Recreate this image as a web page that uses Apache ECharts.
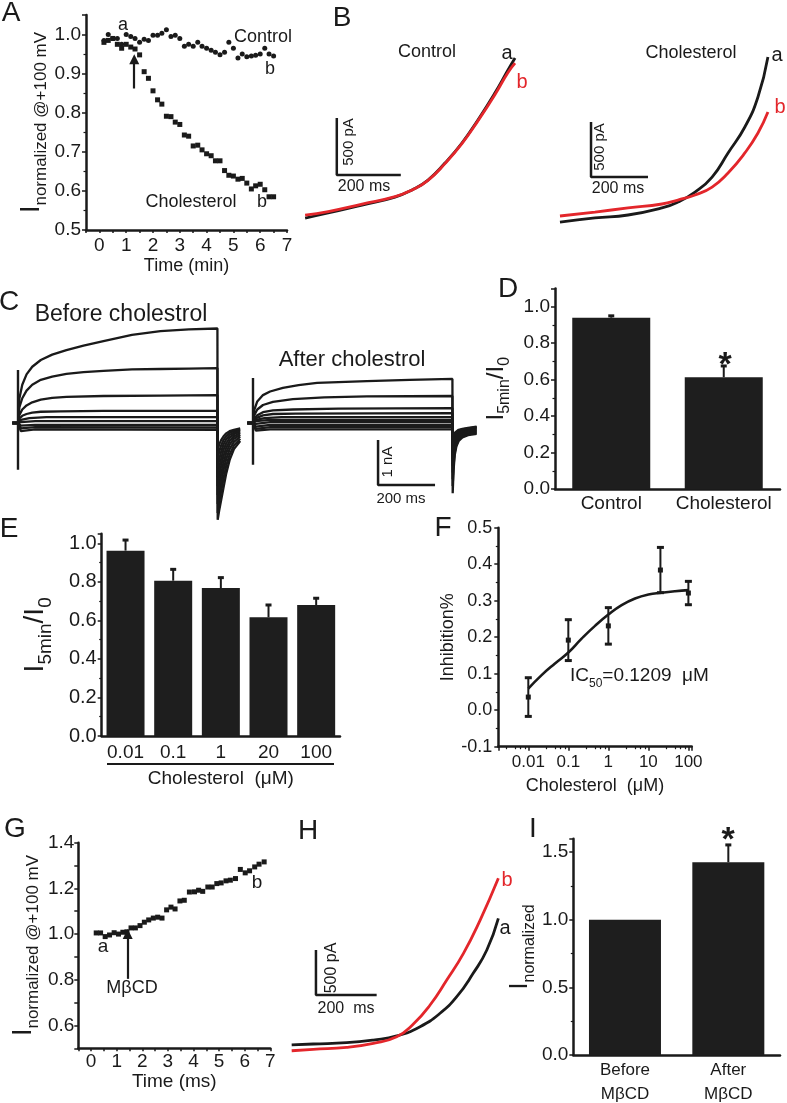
<!DOCTYPE html>
<html>
<head>
<meta charset="utf-8">
<script src="https://cdn.jsdelivr.net/npm/echarts@6/dist/echarts.min.js"></script>
<style>
  html, body { margin: 0; padding: 0; background: #fff; }
  #fig { width: 787px; height: 1103px; }
</style>
</head>
<body>
<div id="fig"></div>
<script>
// ---- data ----
// A: normalized current vs time (min)
const aTime = [0.17, 0.33, 0.5, 0.67, 0.83, 1.0, 1.17, 1.33, 1.5, 1.67, 1.83, 2.0, 2.17, 2.33, 2.5, 2.67, 2.83, 3.0, 3.17, 3.33, 3.5, 3.67, 3.83, 4.0, 4.17, 4.33, 4.5, 4.67, 4.83, 5.0, 5.17, 5.33, 5.5, 5.67, 5.83, 6.0, 6.17, 6.33, 6.5]
const aControl = [0.985, 1.0, 0.99, 0.99, 0.975, 1.0, 0.995, 0.99, 0.98, 0.988, 0.985, 0.998, 0.998, 1.003, 1.012, 0.995, 0.998, 0.99, 0.97, 0.975, 0.97, 0.98, 0.97, 0.965, 0.96, 0.955, 0.948, 0.955, 0.98, 0.965, 0.94, 0.95, 0.943, 0.945, 0.947, 0.95, 0.965, 0.95, 0.945]
const aChol = [0.98, 0.985, 0.99, 0.975, 0.965, 0.975, 0.968, 0.963, 0.948, 0.905, 0.888, 0.856, 0.833, 0.822, 0.791, 0.79, 0.776, 0.77, 0.743, 0.74, 0.715, 0.717, 0.705, 0.695, 0.69, 0.677, 0.677, 0.652, 0.64, 0.638, 0.63, 0.632, 0.62, 0.605, 0.613, 0.617, 0.603, 0.585, 0.585]

// B: current traces (ms, pA)
const bCtrlT = [16, 88, 194, 297, 350, 400, 453, 506, 556, 609, 650, 672]
const bCtrlA = [263, 307, 377, 447, 509, 596, 745, 921, 1123, 1359, 1561, 1666]
const bCtrlB = [289, 320, 385, 450, 509, 594, 740, 915, 1115, 1345, 1540, 1622]
const bCholT = [35, 158, 274, 393, 449, 509, 569, 625, 684, 730, 765]
const bCholA = [236, 273, 300, 364, 418, 509, 645, 864, 1100, 1373, 1736]
const bCholB = [291, 327, 364, 400, 436, 482, 554, 682, 864, 1045, 1236]

// C: current families (ms, nA), before / after cholesterol
const cBefore = [
  [[-20, 0], [0, 0], [5, 0.55], [15, 0.85], [30, 1.08], [50, 1.25], [80, 1.4], [120, 1.52], [170, 1.62], [230, 1.72], [300, 1.82], [400, 1.96], [500, 2.04], [600, 2.08], [700, 2.1], [701, -2.15], [706, -1.95], [713, -1.72], [721, -1.45], [731, -1.12], [743, -0.82], [758, -0.58], [780, -0.4]],
  [[-20, 0], [0, 0], [5, 0.35], [15, 0.55], [30, 0.72], [50, 0.85], [80, 0.96], [120, 1.03], [170, 1.09], [230, 1.13], [300, 1.16], [400, 1.19], [500, 1.2], [600, 1.21], [700, 1.22], [701, -2.0], [706, -1.78], [713, -1.52], [721, -1.25], [731, -0.95], [743, -0.7], [758, -0.5], [780, -0.35]],
  [[-20, 0], [0, 0], [5, 0.18], [15, 0.3], [30, 0.39], [50, 0.46], [80, 0.52], [120, 0.56], [170, 0.58], [300, 0.6], [500, 0.61], [700, 0.62], [701, -1.8], [706, -1.58], [713, -1.33], [721, -1.06], [731, -0.8], [743, -0.58], [758, -0.42], [780, -0.3]],
  [[-20, 0], [0, 0], [5, 0.1], [15, 0.16], [30, 0.2], [50, 0.23], [80, 0.25], [150, 0.26], [300, 0.27], [700, 0.27], [701, -1.6], [706, -1.38], [713, -1.14], [721, -0.9], [731, -0.66], [743, -0.48], [758, -0.35], [780, -0.26]],
  [[-20, 0], [0, 0], [10, 0.07], [40, 0.11], [100, 0.13], [700, 0.13], [701, -1.4], [706, -1.18], [713, -0.96], [721, -0.74], [731, -0.55], [743, -0.4], [758, -0.3], [780, -0.22]],
  [[-20, 0], [0, 0], [10, 0.02], [60, 0.04], [700, 0.04], [701, -1.2], [706, -1.0], [713, -0.8], [721, -0.6], [731, -0.45], [743, -0.33], [758, -0.25], [780, -0.19]],
  [[-20, 0], [0, 0], [10, -0.06], [60, -0.04], [700, -0.04], [701, -1.0], [706, -0.82], [713, -0.64], [721, -0.48], [731, -0.36], [743, -0.27], [758, -0.21], [780, -0.16]],
  [[-20, 0], [0, 0], [10, -0.12], [60, -0.09], [700, -0.1], [701, -0.8], [706, -0.64], [713, -0.5], [721, -0.38], [731, -0.29], [743, -0.22], [758, -0.17], [780, -0.14]],
  [[-20, 0], [0, 0], [10, -0.18], [60, -0.14], [700, -0.15], [701, -0.6], [706, -0.48], [713, -0.38], [721, -0.3], [731, -0.23], [743, -0.18], [758, -0.15], [780, -0.12]]
]
const cAfter = [
  [[-20, 0], [0, 0], [5, 0.3], [15, 0.48], [35, 0.62], [60, 0.7], [105, 0.78], [160, 0.84], [225, 0.89], [300, 0.91], [400, 0.93], [550, 0.96], [700, 0.98], [701, -1.56], [704, -1.05], [708, -0.72], [714, -0.52], [722, -0.4], [735, -0.32], [755, -0.27], [785, -0.24]],
  [[-20, 0], [0, 0], [5, 0.18], [15, 0.3], [35, 0.4], [70, 0.47], [140, 0.53], [250, 0.57], [400, 0.59], [700, 0.6], [701, -1.4], [704, -0.95], [708, -0.66], [714, -0.48], [722, -0.37], [735, -0.3], [755, -0.25], [785, -0.22]],
  [[-20, 0], [0, 0], [5, 0.1], [15, 0.17], [35, 0.24], [70, 0.28], [140, 0.3], [300, 0.32], [700, 0.33], [701, -1.25], [704, -0.85], [708, -0.6], [714, -0.44], [722, -0.34], [735, -0.27], [755, -0.23], [785, -0.2]],
  [[-20, 0], [0, 0], [5, 0.07], [15, 0.12], [35, 0.17], [70, 0.2], [150, 0.21], [700, 0.22], [701, -1.1], [704, -0.76], [708, -0.54], [714, -0.4], [722, -0.31], [735, -0.25], [755, -0.21], [785, -0.18]],
  [[-20, 0], [0, 0], [10, 0.07], [40, 0.11], [100, 0.13], [700, 0.13], [701, -0.95], [704, -0.66], [708, -0.48], [714, -0.36], [722, -0.28], [735, -0.23], [755, -0.19], [785, -0.16]],
  [[-20, 0], [0, 0], [10, 0.04], [60, 0.07], [700, 0.07], [701, -0.8], [704, -0.57], [708, -0.42], [714, -0.32], [722, -0.25], [735, -0.2], [755, -0.17], [785, -0.14]],
  [[-20, 0], [0, 0], [10, -0.02], [60, 0.02], [700, 0.02], [701, -0.65], [704, -0.48], [708, -0.36], [714, -0.28], [722, -0.22], [735, -0.18], [755, -0.15], [785, -0.12]],
  [[-20, 0], [0, 0], [10, -0.08], [60, -0.04], [700, -0.04], [701, -0.5], [704, -0.38], [708, -0.3], [714, -0.24], [722, -0.19], [735, -0.16], [755, -0.13], [785, -0.1]],
  [[-20, 0], [0, 0], [10, -0.13], [60, -0.09], [700, -0.09], [701, -0.4], [704, -0.32], [708, -0.26], [714, -0.21], [722, -0.17], [735, -0.14], [755, -0.12], [785, -0.09]],
  [[-20, 0], [0, 0], [10, -0.17], [60, -0.14], [700, -0.14], [701, -0.3], [704, -0.26], [708, -0.22], [714, -0.18], [722, -0.15], [735, -0.13], [755, -0.11], [785, -0.08]]
]
const cSpikeBefore = [[0, 1.18], [0, -1.04]]
const cSpikeAfter = [[0, 1.0], [0, -0.93]]

// D: I5min/I0
const dCats = ['Control', 'Cholesterol']
const dMean = [0.94, 0.613]
const dErr = [0.01, 0.062]

// E: dose series
const eCats = ['0.01', '0.1', '1', '20', '100']
const eMean = [0.962, 0.806, 0.768, 0.616, 0.68]
const eErr = [0.055, 0.059, 0.054, 0.064, 0.035]

// F: inhibition vs concentration, with fit
const fConc = [0.01, 0.1, 1, 20, 100]
const fMean = [0.036, 0.192, 0.231, 0.384, 0.321]
const fErr = [0.053, 0.056, 0.05, 0.062, 0.032]
const fFitX = [0.01, 0.0215, 0.0464, 0.1, 0.215, 0.464, 1, 2.15, 4.64, 10, 21.5, 46.4, 100]
const fFitY = [0.059, 0.096, 0.128, 0.158, 0.196, 0.231, 0.262, 0.288, 0.306, 0.317, 0.322, 0.326, 0.329]

// G: normalized current vs time (ms)
const gTime = [0.2, 0.37, 0.55, 0.72, 0.9, 1.07, 1.24, 1.4, 1.56, 1.73, 1.91, 2.08, 2.25, 2.43, 2.6, 2.77, 2.95, 3.12, 3.28, 3.47, 3.64, 3.84, 4.04, 4.2, 4.36, 4.56, 4.73, 4.91, 5.08, 5.27, 5.44, 5.64, 5.83, 6.02, 6.19, 6.39, 6.56, 6.76]
const gVal = [1.005, 1.005, 0.989, 0.996, 1.006, 1.0, 1.008, 1.01, 1.027, 1.027, 1.037, 1.052, 1.062, 1.07, 1.074, 1.07, 1.106, 1.118, 1.11, 1.145, 1.148, 1.184, 1.185, 1.192, 1.187, 1.206, 1.206, 1.221, 1.224, 1.233, 1.236, 1.243, 1.283, 1.268, 1.277, 1.294, 1.306, 1.316]

// H: traces before (a) / after (b) MbCD
const hTa = [22, 93, 203, 291, 368, 445, 511, 566, 620, 665, 703]
const hA = [167, 178, 192, 222, 267, 370, 519, 703, 963, 1222, 1574]
const hTb = [22, 93, 203, 291, 368, 423, 478, 533, 588, 643, 703]
const hB = [103, 119, 141, 186, 259, 400, 611, 889, 1185, 1555, 2019]

// I: normalized current
const iCats = ['Before\nMβCD', 'After\nMβCD']
const iMean = [1.0, 1.426]
const iErr = [0, 0.128]

// scale bars, in each panel's data units
const bBarCtrl = [[115, 1140], [115, 640], [315, 640]]
const bBarChol = [[144, 1145], [144, 645], [344, 645]]
const cBar = [[439, -0.38], [439, -1.38], [639, -1.38]]
const hBar = [[102, 1222], [102, 722], [302, 722]]

// ---- chart ----
const FONT = '"Liberation Sans", Arial, Helvetica, sans-serif'
const INK = '#1a1a1a'
const RED = '#e3262b'
const BAR = '#1e1e1e'

const pairs = (xs, ys) => xs.map((x, i) => [x, ys[i]])

function merge (a, b) {
  for (const k in b) {
    const v = b[k]
    if (v && typeof v === 'object' && !Array.isArray(v) && a[k] && typeof a[k] === 'object') merge(a[k], v)
    else a[k] = v
  }
  return a
}

function axis (grid, extra) {
  return merge({
    gridIndex: grid,
    axisLine: {show: true, onZero: false, lineStyle: {color: INK, width: 2.5}},
    axisTick: {show: true, inside: false, length: 4, lineStyle: {color: INK, width: 1.5}},
    minorTick: {show: false, length: 2.5, lineStyle: {color: INK, width: 1.2}},
    splitLine: {show: false},
    axisLabel: {color: INK, fontFamily: FONT, fontSize: 19, margin: 5},
    nameTextStyle: {color: INK, fontFamily: FONT}
  }, extra)
}

function hidden (grid, min, max) {
  return {type: 'value', gridIndex: grid, min: min, max: max, show: false}
}

function ylabelRich (big, small, pad) {
  return {
    b: {fontSize: big, fontFamily: FONT, color: INK, verticalAlign: 'bottom', padding: [0, 0, pad, 0]},
    s: {fontSize: small, fontFamily: FONT, color: INK, verticalAlign: 'bottom'}
  }
}

const grids = [
  {left: 86, top: 15, width: 201, height: 215},       // A
  {left: 300, top: 20, width: 256, height: 228},      // B control
  {left: 550, top: 28, width: 233.6, height: 220},    // B cholesterol
  {left: 12.3, top: 301.5, width: 239.3, height: 229.5}, // C before
  {left: 247.3, top: 301.5, width: 239.3, height: 229.5}, // C after
  {left: 555, top: 288.5, width: 225, height: 200.5},  // D
  {left: 101.7, top: 533.7, width: 238.3, height: 202.3}, // E
  {left: 498.3, top: 527.7, width: 193.4, height: 219}, // F
  {left: 78.3, top: 842.7, width: 192, height: 205.6}, // G
  {left: 285, top: 862, width: 242.8, height: 198},    // H
  {left: 573.3, top: 838.7, width: 206.7, height: 216.3} // I
].map(g => Object.assign({outerBoundsMode: 'none', containLabel: false}, g))

const xAxes = [
  axis(0, {type: 'value', min: -0.5, max: 7, interval: 0.5, name: 'Time (min)', nameLocation: 'middle', nameGap: 27,
    nameTextStyle: {fontSize: 18}, axisTick: {length: 3},
    axisLabel: {formatter: v => Number.isInteger(v) ? String(v) : '', margin: 6}}),
  hidden(1, 0, 800),
  hidden(2, 0, 820),
  hidden(3, -20, 820),
  hidden(4, -20, 820),
  axis(5, {type: 'category', data: dCats, axisTick: {show: false}, axisLabel: {interval: 0, fontSize: 19, margin: 5}}),
  axis(6, {type: 'category', data: eCats, axisTick: {show: false}, axisLabel: {interval: 0, fontSize: 19, margin: 7},
    name: 'Cholesterol  (μM)', nameLocation: 'middle', nameGap: 33, nameTextStyle: {fontSize: 19}}),
  axis(7, {type: 'log', logBase: 10, min: 0.00178, max: 121, axisTick: {length: 4},
    minorTick: {show: true, splitNumber: 5},
    axisLabel: {fontSize: 17, margin: 7, showMinLabel: false, showMaxLabel: false, formatter: v => String(v)},
    name: 'Cholesterol  (μM)', nameLocation: 'middle', nameGap: 30, nameTextStyle: {fontSize: 18}}),
  axis(8, {type: 'value', min: -0.5, max: 7, interval: 0.5, name: 'Time (ms)', nameLocation: 'middle', nameGap: 21,
    nameTextStyle: {fontSize: 19}, axisTick: {length: 3},
    axisLabel: {formatter: v => Number.isInteger(v) ? String(v) : '', margin: 4}}),
  hidden(9, 0, 800),
  axis(10, {type: 'category', data: iCats, axisTick: {show: false}, axisLabel: {interval: 0, fontSize: 17, lineHeight: 24, margin: 3}})
]

const yAxes = [
  axis(0, {type: 'value', min: 0.5, max: 1.05, interval: 0.1, minorTick: {show: true, splitNumber: 2},
    axisLabel: {formatter: v => v.toFixed(1), showMaxLabel: false},
    name: '{b|I}{s|normalized @+100 mV}', nameLocation: 'middle', nameGap: 36,
    nameTextStyle: {rich: ylabelRich(27, 17, 5)}}),
  hidden(1, 0, 2000),
  hidden(2, 0, 2000),
  hidden(3, -2.4, 2.7),
  hidden(4, -2.4, 2.7),
  axis(5, {type: 'value', min: 0, max: 1.1, interval: 0.2, minorTick: {show: true, splitNumber: 2},
    axisLabel: {formatter: v => v.toFixed(1), showMaxLabel: false},
    name: '{b|I}{s|5min}{b|/I}{s|0}', nameLocation: 'middle', nameGap: 42,
    nameTextStyle: {rich: ylabelRich(24, 16, 5)}}),
  axis(6, {type: 'value', min: 0, max: 1.05, interval: 0.2, minorTick: {show: true, splitNumber: 2},
    axisLabel: {formatter: v => v.toFixed(1), showMaxLabel: false, fontSize: 20},
    name: '{b|I}{s|5min}{b|/I}{s|0}', nameLocation: 'middle', nameGap: 46,
    nameTextStyle: {rich: ylabelRich(28, 19, 6)}}),
  axis(7, {type: 'value', min: -0.1, max: 0.5, interval: 0.1, minorTick: {show: true, splitNumber: 2},
    axisLabel: {formatter: v => v.toFixed(1), fontSize: 18, margin: 6},
    name: 'Inhibition%', nameLocation: 'middle', nameGap: 38, nameTextStyle: {fontSize: 18}}),
  axis(8, {type: 'value', min: 0.5, max: 1.4, interval: 0.1,
    axisLabel: {formatter: v => Math.round(v * 10) % 2 === 0 ? v.toFixed(1) : '', margin: 4},
    name: '{b|I}{s|normalized @+100 mV}', nameLocation: 'middle', nameGap: 36,
    nameTextStyle: {rich: ylabelRich(27, 17, 5)}}),
  hidden(9, 0, 2200),
  axis(10, {type: 'value', min: 0, max: 1.6, interval: 0.5, minorTick: {show: true, splitNumber: 2},
    axisLabel: {formatter: v => v.toFixed(1), showMaxLabel: false},
    name: '{b|I}{s|normalized}', nameLocation: 'middle', nameGap: 31,
    nameTextStyle: {rich: ylabelRich(25, 16, 5)}})
]

function trace (ax, data, color, width, smooth) {
  return {type: 'line', xAxisIndex: ax, yAxisIndex: ax, data: data, showSymbol: false, smooth: smooth,
    lineStyle: {color: color, width: width}, silent: true}
}

function errBars (ax, data, capHalf, both) {
  return {
    type: 'custom', xAxisIndex: ax, yAxisIndex: ax, data: data, z: 5, silent: true,
    renderItem: (params, api) => {
      const x = api.value(0)
      const m = api.value(1)
      const e = api.value(2)
      const hi = api.coord([x, m + e])
      const lo = api.coord([x, both ? m - e : m])
      const kids = [
        {type: 'line', shape: {x1: hi[0], y1: hi[1], x2: lo[0], y2: lo[1]}, style: {stroke: INK, lineWidth: 2}},
        {type: 'line', shape: {x1: hi[0] - capHalf, y1: hi[1], x2: hi[0] + capHalf, y2: hi[1]}, style: {stroke: INK, lineWidth: 3}}
      ]
      if (both) kids.push({type: 'line', shape: {x1: lo[0] - capHalf, y1: lo[1], x2: lo[0] + capHalf, y2: lo[1]}, style: {stroke: INK, lineWidth: 3}})
      return {type: 'group', children: kids}
    }
  }
}

function arrow (from, to) {
  return {
    silent: true, symbol: ['none', 'triangle'], symbolSize: 10,
    lineStyle: {color: INK, width: 2.2, type: 'solid', opacity: 1}, label: {show: false},
    itemStyle: {color: INK, opacity: 1},
    data: [[{coord: from}, {coord: to}]]
  }
}

const dots = {color: INK, opacity: 1}

const series = [
  // A
  {type: 'scatter', xAxisIndex: 0, yAxisIndex: 0, data: pairs(aTime, aControl), symbol: 'circle', symbolSize: 5, itemStyle: dots},
  {type: 'scatter', xAxisIndex: 0, yAxisIndex: 0, data: pairs(aTime, aChol), symbol: 'rect', symbolSize: 5, itemStyle: dots,
    markLine: arrow([1.3, 0.862], [1.3, 0.937])},
  // B
  trace(1, pairs(bCtrlT, bCtrlA), INK, 2.8, true),
  trace(1, pairs(bCtrlT, bCtrlB), RED, 2.8, true),
  trace(1, bBarCtrl, INK, 2.5, false),
  trace(2, pairs(bCholT, bCholA), INK, 2.8, true),
  trace(2, pairs(bCholT, bCholB), RED, 2.8, true),
  trace(2, bBarChol, INK, 2.5, false),
  // C
  ...cBefore.map(tr => trace(3, tr, INK, 2.3, false)),
  trace(3, cSpikeBefore, INK, 2.4, false),
  ...cAfter.map(tr => trace(4, tr, INK, 2.3, false)),
  trace(4, cSpikeAfter, INK, 2.4, false),
  trace(4, cBar, INK, 2.5, false),
  // D
  {type: 'bar', xAxisIndex: 5, yAxisIndex: 5, data: dMean, barWidth: 78, itemStyle: {color: BAR}, silent: true},
  errBars(5, dMean.map((m, i) => [i, m, dErr[i]]), 3, false),
  // E
  {type: 'bar', xAxisIndex: 6, yAxisIndex: 6, data: eMean, barWidth: 38, itemStyle: {color: BAR}, silent: true},
  errBars(6, eMean.map((m, i) => [i, m, eErr[i]]), 3, false),
  // F
  trace(7, pairs(fFitX, fFitY), INK, 2.6, true),
  errBars(7, fConc.map((c, i) => [c, fMean[i], fErr[i]]), 3.5, true),
  {type: 'scatter', xAxisIndex: 7, yAxisIndex: 7, data: pairs(fConc, fMean), symbol: 'rect', symbolSize: 5, itemStyle: dots, z: 6},
  // G
  {type: 'scatter', xAxisIndex: 8, yAxisIndex: 8, data: pairs(gTime, gVal), symbol: 'rect', symbolSize: 5, itemStyle: dots,
    markLine: arrow([1.43, 0.804], [1.43, 1.0])},
  // H
  trace(9, pairs(hTa, hA), INK, 2.8, true),
  trace(9, pairs(hTb, hB), RED, 2.8, true),
  trace(9, hBar, INK, 2.5, false),
  // I
  {type: 'bar', xAxisIndex: 10, yAxisIndex: 10, data: iMean, barWidth: 72, itemStyle: {color: BAR}, silent: true},
  errBars(10, iMean.map((m, i) => [i, m, iErr[i]]).filter(d => d[2] > 0), 3, false)
]

function txt (x, y, text, size, extra) {
  return merge({type: 'text', x: x, y: y, silent: true,
    style: {text: text, fontSize: size, fontFamily: FONT, fill: INK, align: 'center', verticalAlign: 'middle'}}, extra || {})
}
const ROT = {rotation: Math.PI / 2}

const graphic = [
  // panel letters
  txt(11, 13, 'A', 28), txt(342, 18, 'B', 28), txt(9, 302, 'C', 28), txt(508, 289, 'D', 28),
  txt(9, 529, 'E', 28), txt(443, 528, 'F', 28), txt(15, 829, 'G', 28), txt(308, 831, 'H', 28), txt(533, 829, 'I', 28),
  // A
  txt(123, 25, 'a', 18), txt(263, 37, 'Control', 18), txt(270, 69, 'b', 18),
  txt(191, 202, 'Cholesterol', 18), txt(262, 202, 'b', 18),
  // B
  txt(427, 52, 'Control', 18), txt(507, 53, 'a', 20), txt(522, 82, 'b', 20, {style: {fill: RED}}),
  txt(349, 142, '500 pA', 15, ROT), txt(364, 187, '200 ms', 16),
  txt(691, 53, 'Cholesterol', 18), txt(777, 55, 'a', 20), txt(780, 107, 'b', 20, {style: {fill: RED}}),
  txt(600, 147, '500 pA', 15, ROT), txt(618, 189, '200 ms', 16),
  // C
  txt(121, 315, 'Before cholestrol', 23), txt(352, 360, 'After cholestrol', 22),
  txt(388, 462, '1 nA', 15, ROT), txt(401, 499, '200 ms', 15),
  // D
  txt(725, 366, '*', 34, {style: {fontWeight: 'bold'}}),
  // E underline
  {type: 'line', silent: true, shape: {x1: 107, y1: 764, x2: 334, y2: 764}, style: {stroke: INK, lineWidth: 2}},
  // F
  {type: 'text', x: 570, y: 678, silent: true, style: {
    text: '{n|IC}{s|50}{n|=0.1209  μM}', align: 'left', verticalAlign: 'middle',
    rich: {n: {fontSize: 19, fontFamily: FONT, fill: INK, verticalAlign: 'bottom', padding: [0, 0, 4, 0]},
      s: {fontSize: 12, fontFamily: FONT, fill: INK, verticalAlign: 'bottom'}}}},
  // G
  txt(103, 947, 'a', 19), txt(257, 883, 'b', 19), txt(132, 988, 'MβCD', 18),
  // H
  txt(332, 968, '500 pA', 16, ROT), txt(346, 1009, '200  ms', 16),
  txt(505, 928, 'a', 20), txt(507, 880, 'b', 20, {style: {fill: RED}}),
  // I
  txt(728, 841, '*', 34, {style: {fontWeight: 'bold'}})
]

const chart = echarts.init(document.getElementById('fig'), null, {renderer: 'canvas', width: 787, height: 1103})
chart.setOption({
  animation: false,
  backgroundColor: '#ffffff',
  textStyle: {fontFamily: FONT, color: INK},
  grid: grids,
  xAxis: xAxes,
  yAxis: yAxes,
  series: series,
  graphic: graphic
})
</script>
</body>
</html>
